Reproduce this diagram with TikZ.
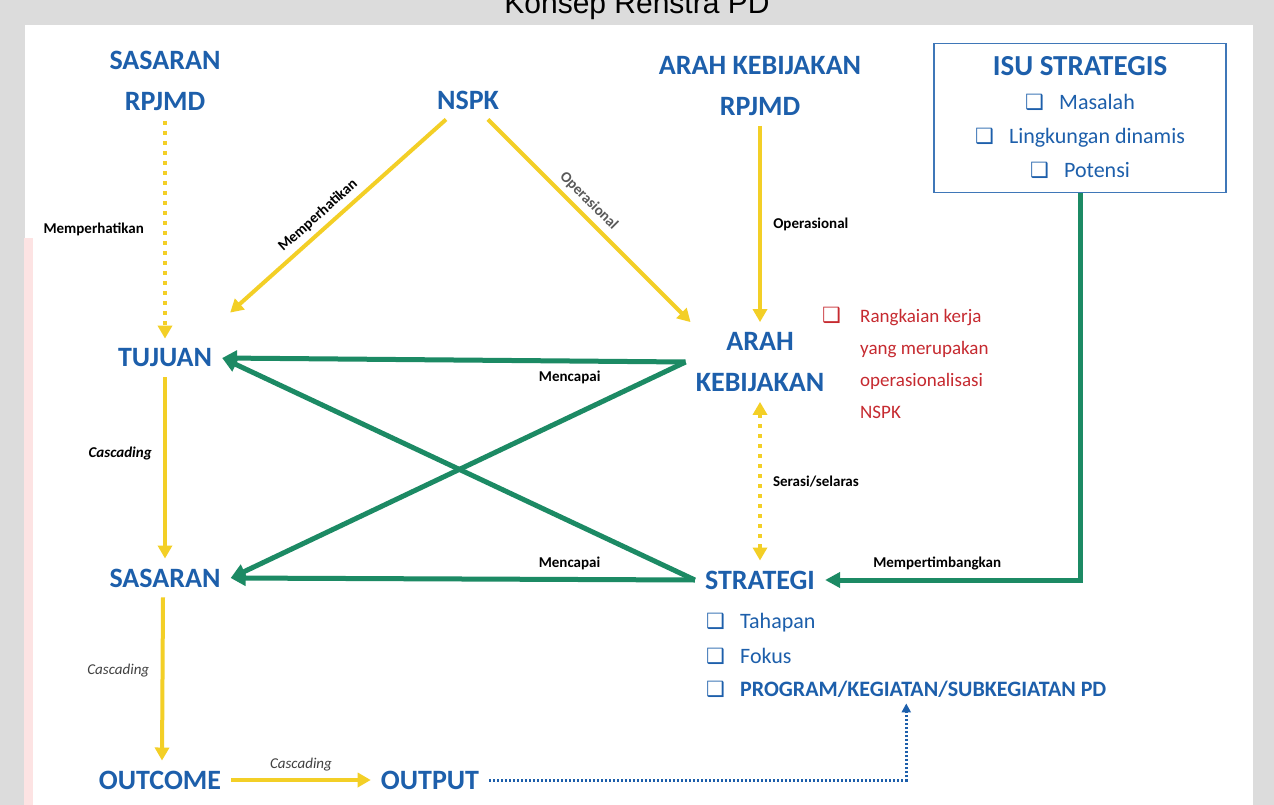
\documentclass[tikz,border=0pt]{standalone}
\usepackage{fontspec}
\setmainfont{Carlito}
\newfontfamily\boxfont{DejaVu Sans}
\newfontfamily\titlefont{Liberation Sans}
\usetikzlibrary{arrows.meta}
\definecolor{kblue}{HTML}{1D5FAB}
\definecolor{kyellow}{HTML}{F3CF26}
\definecolor{kgreen}{HTML}{1C8A64}
\definecolor{kred}{HTML}{C62A30}
\definecolor{kgray}{HTML}{DCDCDC}
\definecolor{kpink}{HTML}{FDE3E3}
\newcommand{\cbox}{\makebox[34pt][l]{\boxfont\fontsize{21}{21}\selectfont ❑}}
\tikzset{
	align=center,
	big/.style={
		text=kblue,
		font=\fontsize{28}{41}\selectfont\bfseries,
		inner sep=10pt,
	},
	item/.style={
		text=kblue,
		font=\fontsize{22}{26}\selectfont,
		anchor=west,
		inner sep=0pt,
	},
	lbl/.style={
		font=\fontsize{15}{17}\selectfont\bfseries,
		text=black,
	},
	cas/.style={
		font=\fontsize{15}{17}\selectfont\bfseries\itshape,
	},
	yel/.style={
		draw=kyellow,
		line width=4pt,
		-{Triangle[length=13pt,width=14pt]}
	},
	yeldot/.style={
		yel,
		line width=3.5pt,
		dash pattern=on 4pt off 6pt,
	},
	grn/.style={
		draw=kgreen,
		line width=5pt,
		-{Triangle[length=15pt,width=15pt]}
	},
	blue dots/.style={
		draw=kblue,
		line width=3pt,
		dash pattern=on 2pt off 2pt,
		-{Triangle[length=9pt,width=9pt]}
	},
}

\begin{document}
\begin{tikzpicture}[x=1pt,y=-1pt]
	\useasboundingbox (0,0) rectangle (1274,805);
	\fill[kgray] (0,0) rectangle (1274,805);
	\fill[white] (25,25) rectangle (1253,805);
	\fill[kpink] (24,238) rectangle (33,805);

	\node[anchor=base, font=\titlefont\fontsize{30}{30}\selectfont] (title) at (637,14) {Konsep Renstra PD};

	% top row
	\node[big] (sasrpjmd) at (165,81) {SASARAN\\RPJMD};
	\node[big] (nspk) at (468,100) {NSPK};
	\node[big] (arahrpjmd) at (760,86) {ARAH KEBIJAKAN\\RPJMD};
	\node[draw=kblue!85, line width=1.5pt, minimum width=292pt, minimum height=149pt, text=kblue,
		font=\fontsize{22}{34}\selectfont] (isu) at (1080,118)
		{{\fontsize{29}{34}\selectfont\bfseries ISU STRATEGIS}\\
		\cbox Masalah\\ \cbox Lingkungan dinamis\\ \cbox Potensi};

	% middle
	\node[big] (tujuan) at (165,358) {TUJUAN};
	\node[big] (arah) at (760,362) {ARAH\\KEBIJAKAN};
	\node[anchor=north west, text=kred, font=\fontsize{19}{32}\selectfont, inner sep=0pt] (note) at (822,300)
		{\begin{tabular}{@{}l@{}l@{}}
			\makebox[38pt][l]{\boxfont\fontsize{21}{21}\selectfont ❑} & Rangkaian kerja\\
			& yang merupakan\\
			& operasionalisasi\\
			& NSPK
		\end{tabular}};
	\node[big] (sasaran) at (165,578) {SASARAN};
	\node[big] (strategi) at (760,580) {STRATEGI};
	\node[item] (tahapan) at (706,623) {\cbox Tahapan};
	\node[item] (fokus) at (706,656) {\cbox Fokus};
	\node[item, font=\fontsize{22}{26}\selectfont\bfseries, inner sep=6pt] (program) at (700,689) {\cbox PROGRAM/KEGIATAN/SUBKEGIATAN PD};

	% bottom
	\node[big] (outcome) at (160,780) {OUTCOME};
	\node[big] (output) at (430,780) {OUTPUT};

	% yellow connectors
	\draw[yeldot] (sasrpjmd) -- (tujuan)
		node[lbl, pos=0.5, left=16pt] {Memperhatikan};
	\draw[yel] ([xshift=-22pt]nspk.south) -- ([shift={(8,-26)}]tujuan.north east)
		node[lbl, pos=0.55, sloped, above=2pt] {Memperhatikan};
	\draw[yel] ([xshift=20pt]nspk.south) -- ([shift={(5,0)}]arah.north west)
		node[lbl, text=black!65, pos=0.45, sloped, above=2pt] {Operasional};
	\draw[yel] (arahrpjmd) -- (arah)
		node[lbl, midway, right=8pt] {Operasional};
	\draw[yeldot, {Triangle[length=13pt,width=14pt]}-{Triangle[length=13pt,width=14pt]}] (arah) -- (strategi)
		node[lbl, midway, right=8pt] {Serasi/selaras};
	\draw[yel] (tujuan) -- (sasaran)
		node[cas, pos=0.42, left=8pt] {Cascading};
	\draw[yel] ([xshift=-2pt]sasaran.south) -- ([xshift=2pt]outcome.north)
		node[cas, font=\fontsize{15}{17}\selectfont\itshape, text=black!75, pos=0.45, left=8pt] {Cascading};
	\draw[yel] (outcome) -- (output)
		node[cas, font=\fontsize{15}{17}\selectfont\itshape, text=black!75, midway, above=4pt] {Cascading};

	% green connectors
	\draw[grn] (arah.west) -- (tujuan.east)
		node[lbl, pos=0.25, below=4pt] {Mencapai};
	\draw[grn] (arah.west) -- (sasaran.east);
	\draw[grn] (strategi.west) -- (tujuan.east);
	\draw[grn] (strategi.west) -- (sasaran.east)
		node[lbl, pos=0.27, above=4pt] {Mencapai};
	\draw[grn] (isu.south) |- (strategi.east)
		node[lbl, pos=0.78, above=4pt] {Mempertimbangkan};

	% output to program
	\draw[blue dots] (output.east) -| (program.south);
\end{tikzpicture}
\end{document}
